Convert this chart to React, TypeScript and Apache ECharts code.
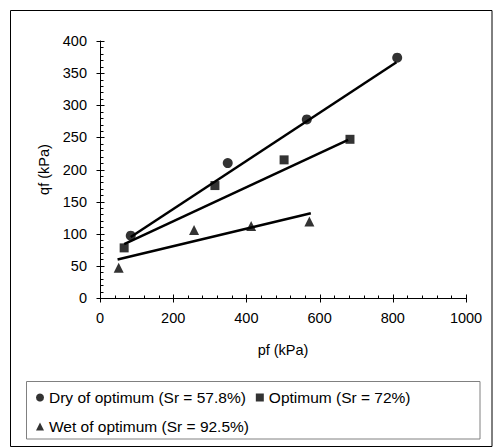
import React, { useEffect, useRef } from "react";
import * as echarts from "echarts";

const xTicks = [0, 1000, 200];
const yTicks = [0, 400, 50];
const xMinorStep = 40;
const yMinorStep = 10;

const dryName = "Dry of optimum (Sr = 57.8%)";
const optName = "Optimum (Sr = 72%)";
const wetName = "Wet of optimum (Sr = 92.5%)";

const dryX = [84, 349, 565, 812];
const dryY = [97, 210, 278, 374];
const optX = [66, 314, 503, 683];
const optY = [78, 175, 215, 247];
const wetX = [51, 257, 413, 572];
const wetY = [47, 106, 112, 119];

const dryFitX = [84, 810];
const dryFitY = [95, 367];
const optFitX = [66, 678];
const optFitY = [84, 246];
const wetFitX = [48, 576];
const wetFitY = [60, 132];

const zip = (xs: number[], ys: number[]) => xs.map((x, i) => [x, ys[i]]);

const stepsOf = (min: number, max: number, step: number) => {
  const out: number[] = [];
  for (let v = min; v <= max + 1e-9; v += step) out.push(v);
  return out;
};

const FONT = "Liberation Sans";

export default function App() {
  const ref = useRef<HTMLDivElement>(null);
  useEffect(() => {
    document.body.style.margin = "0";
    const chart = echarts.init(ref.current!, null, { renderer: "svg" });

    const xMajor = stepsOf(xTicks[0], xTicks[1], xTicks[2]);
    const xMinor = stepsOf(xTicks[0], xTicks[1], xMinorStep).filter((v) => v % xTicks[2] !== 0);
    const yMajor = stepsOf(yTicks[0], yTicks[1], yTicks[2]);
    const yMinor = stepsOf(yTicks[0], yTicks[1], yMinorStep).filter((v) => v % yTicks[2] !== 0);

    // tick marks drawn through the axes' own scales
    const tickSeries = (data: number[][], onX: boolean, before: number, after: number) => ({
      type: "custom" as const,
      silent: true,
      clip: false,
      z: 5,
      xAxisIndex: 0,
      yAxisIndex: 0,
      data,
      renderItem: (_p: any, api: any) => {
        const pt = api.coord([api.value(0), api.value(1)]);
        const x = Math.round(pt[0]) + 0.5;
        const y = Math.round(pt[1]) + 0.5;
        const shape = onX
          ? { x1: x, y1: y - before, x2: x, y2: y + after }
          : { x1: x - before, y1: y, x2: x + after, y2: y };
        return { type: "line", shape, style: { stroke: "#000", lineWidth: 1 } };
      },
    });

    const scatterCommon = {
      type: "scatter" as const,
      itemStyle: { color: "#000" },
      z: 3,
    };
    const lineCommon = {
      type: "line" as const,
      symbol: "none",
      lineStyle: { color: "#000", width: 2.5 },
      z: 2,
    };

    chart.setOption({
      animation: false,
      backgroundColor: "#fff",
      textStyle: { fontFamily: FONT },
      grid: { left: 100, right: 27, top: 41, bottom: 150 },
      xAxis: {
        type: "value",
        min: xTicks[0],
        max: xTicks[1],
        interval: xTicks[2],
        splitLine: { show: false },
        name: "pf (kPa)",
        nameLocation: "middle",
        nameGap: 44,
        nameTextStyle: { fontFamily: FONT, fontSize: 14.5, color: "#000" },
        axisLine: { show: true, lineStyle: { color: "#000", width: 1 } },
        axisTick: { show: false },
        minorTick: { show: false },
        axisLabel: {
          show: true,
          margin: 12,
          fontFamily: FONT,
          fontSize: 14.5,
          color: "#000",
          formatter: (v: number) => String(v),
        },
      },
      yAxis: {
        type: "value",
        min: yTicks[0],
        max: yTicks[1],
        interval: yTicks[2],
        splitLine: { show: false },
        name: "qf (kPa)",
        nameLocation: "middle",
        nameGap: 45,
        nameTextStyle: { fontFamily: FONT, fontSize: 14.5, color: "#000" },
        axisLine: { show: true, lineStyle: { color: "#000", width: 1 } },
        axisTick: { show: false },
        minorTick: { show: false },
        axisLabel: {
          show: true,
          margin: 13,
          fontFamily: FONT,
          fontSize: 14.5,
          color: "#000",
          formatter: (v: number) => String(v),
        },
      },
      legend: {
        data: [
          { name: dryName, icon: "circle" },
          { name: optName, icon: "rect" },
          { name: wetName, icon: "triangle" },
        ],
        left: 36,
        top: 388,
        width: 400,
        itemWidth: 8,
        itemHeight: 8,
        itemGap: 10,
        padding: 0,
        selectedMode: false,
        textStyle: { fontFamily: FONT, fontSize: 15.5, color: "#000", lineHeight: 19 },
      },
      graphic: [
        {
          type: "rect",
          shape: { x: 10.5, y: 10.5, width: 481.5, height: 436 },
          style: { fill: "none", stroke: "#000", lineWidth: 1 },
          silent: true,
        },
        {
          type: "rect",
          shape: { x: 26.5, y: 381.5, width: 453.5, height: 57.5 },
          style: { fill: "none", stroke: "#808080", lineWidth: 1 },
          silent: true,
        },
      ],
      series: [
        { ...lineCommon, name: "Dry fit", data: zip(dryFitX, dryFitY) },
        { ...lineCommon, name: "Optimum fit", data: zip(optFitX, optFitY) },
        { ...lineCommon, name: "Wet fit", data: zip(wetFitX, wetFitY) },
        { ...scatterCommon, name: dryName, symbol: "circle", symbolSize: 10, data: zip(dryX, dryY) },
        { ...scatterCommon, name: optName, symbol: "rect", symbolSize: 9, data: zip(optX, optY) },
        { ...scatterCommon, name: wetName, symbol: "triangle", symbolSize: 10, data: zip(wetX, wetY) },
        { ...tickSeries(xMajor.map((v) => [v, yTicks[0]]), true, 4, 4), name: "x major ticks" },
        { ...tickSeries(xMinor.map((v) => [v, yTicks[0]]), true, 3, 0), name: "x minor ticks" },
        { ...tickSeries(yMajor.map((v) => [xTicks[0], v]), false, 4, 4), name: "y major ticks" },
        { ...tickSeries(yMinor.map((v) => [xTicks[0], v]), false, 0, 3), name: "y minor ticks" },
      ],
    });
    return () => chart.dispose();
  }, []);
  return <div ref={ref} style={{ width: 493, height: 448 }} />;
}
